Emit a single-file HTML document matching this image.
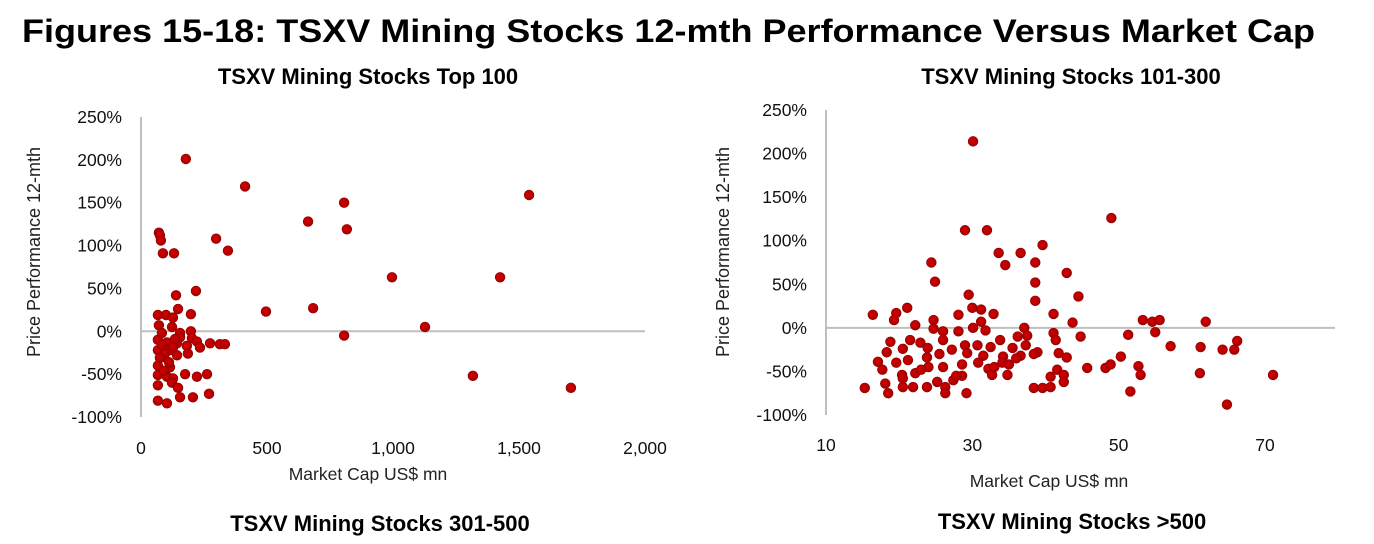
<!DOCTYPE html>
<html><head><meta charset="utf-8"><style>
body{margin:0;background:#fff;}
svg{display:block;font-family:"Liberation Sans",Arial,sans-serif;}
</style></head><body>
<svg id="svg" width="1374" height="544" viewBox="0 0 1374 544">
<defs><radialGradient id="dg" cx="40%" cy="40%" r="60%"><stop offset="0" stop-color="#d40000"/><stop offset="1" stop-color="#a80000"/></radialGradient></defs>
<text x="22" y="42" font-size="32" font-weight="bold" textLength="1293" lengthAdjust="spacingAndGlyphs">Figures 15-18: TSXV Mining Stocks 12-mth Performance Versus Market Cap</text>
<text x="368" y="84" font-size="22" font-weight="bold" text-anchor="middle">TSXV Mining Stocks Top 100</text>
<text x="1071" y="84" font-size="22" font-weight="bold" text-anchor="middle">TSXV Mining Stocks 101-300</text>
<text x="380" y="531" font-size="22" font-weight="bold" text-anchor="middle">TSXV Mining Stocks 301-500</text>
<text x="1072" y="529" font-size="22" font-weight="bold" text-anchor="middle">TSXV Mining Stocks &gt;500</text>
<g id="c1"></g>
<g id="c2"></g>
</svg>
<script>
const yTicks=[250,200,150,100,50,0,-50,-100];
const c1XTicks=[0,500,1000,1500,2000];
const c1XLabels=["0","500","1,000","1,500","2,000"];
const c1Cap=[178,413,298,345,663,806,817,996,1425,1540,1127,806,683,496,1317,1706,71,75,79,87,131,218,139,147,198,67,99,127,71,123,198,155,67,103,143,202,222,274,313,333,182,234,67,115,143,186,87,67,115,67,103,127,175,222,262,67,123,147,155,206,270,67,103,83,95,75,127,155,83,111,91,135];
const c1Perf=[201,169,108,94,128,150,119,63,63,159,5,-5,27,23,-52,-66,115,112,106,91,91,47,42,26,20,19,19,16,7,5,0,-2,-10,-13,-14,-8,-12,-14,-15,-15,-17,-19,-22,-22,-28,-26,-30,-40,-42,-51,-53,-55,-50,-53,-50,-63,-60,-66,-77,-77,-73,-81,-84,-2,-26,-31,-19,-7,-16,-36,-46,-9];
const c2XTicks=[10,30,50,70];
const c2Cap=[30.1,49,29,32,33.6,36.6,39.6,34.5,38.6,24.4,24.9,38.6,38.6,42.9,29.5,44.5,16.4,19.6,19.3,21.1,22.2,24.7,28.1,30,31.2,32.9,31.2,30.1,31.8,28.1,24.7,26,41.1,43.7,37.1,41.1,41.4,18.8,21.5,22.9,26,33.8,36.2,37.5,18.3,20.5,23.9,27.2,29,30.7,32.5,35.5,37.3,38.9,17.1,19.6,21.2,23.8,29.3,31.5,34.2,36.6,38.4,41.8,42.9,17.7,20.4,22.2,24,26,28.6,30.8,32.2,34.1,35,34.8,32.7,28.6,40.7,41.6,42.5,42.5,15.3,18.1,18.5,20.5,21.9,23.8,25.2,26.3,26.3,27.4,29.2,38.4,39.6,40.7,45.7,48.2,48.9,50.3,51.6,52.7,53,53.3,54.6,55.6,55,57.1,61.1,61.9,61.2,64.2,65.8,66.2,64.8,71.1,51.3,44.8,25.5,27.8,33,36,20.5,23];
const c2Perf=[214,126,112,112,86,86,95,72,75,75,53,52,31,63,38,36,15,17,9,23,3,9,15,23,21,16,7,0,-3,-4,-1,-4,16,6,0,-6,-14,-16,-14,-17,-14,-14,-10,-9,-28,-24,-23,-25,-20,-20,-22,-23,-20,-28,-39,-40,-37,-34,-29,-32,-33,-32,-30,-29,-34,-48,-54,-52,-45,-45,-42,-40,-47,-40,-42,-54,-54,-55,-56,-48,-54,-62,-69,-64,-75,-68,-68,-68,-62,-68,-75,-60,-75,-69,-69,-68,-46,-46,-42,-33,-73,-44,-54,9,7,9,-5,-21,-52,7,-22,-25,-25,-15,-88,-54,-8,-10,-30,-55,-45,-35,-58,-48];
const NS="http://www.w3.org/2000/svg";
function mk(p,tag,a,txt){const e=document.createElementNS(NS,tag);for(const k in a)e.setAttribute(k,a[k]);if(txt!=null)e.textContent=txt;p.appendChild(e);return e;}
function draw(g,cfg){
  const xs=v=>cfg.x0+(v-cfg.xmin)/(cfg.xmax-cfg.xmin)*(cfg.x1-cfg.x0);
  const ys=v=>cfg.y0+(250-v)/350*(cfg.y1-cfg.y0);
  let e=mk(g,'line',{x1:cfg.x0,x2:cfg.x0,y1:ys(250),y2:ys(-100),stroke:'#bfbfbf','stroke-width':2});
  
  e=mk(g,'line',{x1:cfg.x0,x2:cfg.xe,y1:ys(0),y2:ys(0),stroke:'#bfbfbf','stroke-width':2});
  
  yTicks.forEach(t=>{e=mk(g,'text',{x:cfg.x0-19,y:ys(t)+6,'font-size':17.5,'text-anchor':'end',fill:'#111'},t+'%');
    });
  cfg.xt.forEach((t,i)=>{e=mk(g,'text',{x:xs(t),y:cfg.xly,'font-size':17.5,'text-anchor':'middle',fill:'#111'},cfg.xl?cfg.xl[i]:String(t));
    });
  e=mk(g,'text',{x:cfg.tx,y:cfg.ty,'font-size':17.5,'text-anchor':'middle',fill:'#222'},'Market Cap US$ mn');
  
  e=mk(g,'text',{x:0,y:0,'font-size':18,'text-anchor':'middle',fill:'#222',transform:`translate(${cfg.yx},${cfg.yy}) rotate(-90)`},'Price Performance 12-mth');
  
  cfg.cap.forEach((c,i)=>{e=mk(g,'circle',{cx:xs(c),cy:ys(cfg.perf[i]),r:4.9,fill:'url(#dg)',stroke:'#8a0000','stroke-width':0.6});
    });
}
draw(document.getElementById('c1'),{x0:141,x1:645,xe:645,xmin:0,xmax:2000,y0:117,y1:417,xt:c1XTicks,xl:c1XLabels,xly:454,tx:368,ty:480,yx:40,yy:252,cap:c1Cap,perf:c1Perf});
draw(document.getElementById('c2'),{x0:826,x1:1265,xe:1335,xmin:10,xmax:70,y0:110,y1:415,xt:c2XTicks,xly:451,tx:1049,ty:487,yx:729,yy:252,cap:c2Cap,perf:c2Perf});
</script>
</body></html>
